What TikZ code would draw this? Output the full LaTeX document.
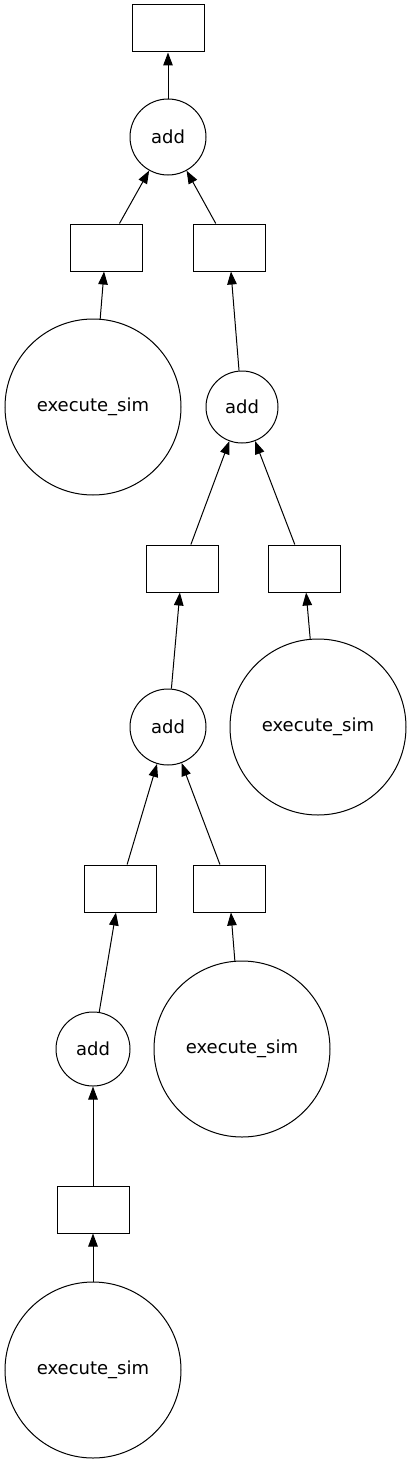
\documentclass[tikz,border=0pt]{standalone}
\usepackage{fontspec}
\setmainfont{DejaVu Sans}
\usetikzlibrary{arrows.meta}
\tikzset{
  box/.style={draw,line width=1pt,minimum width=72pt,minimum height=47pt,inner sep=0pt},
  addnode/.style={circle,draw,line width=1pt,minimum size=76pt,inner sep=0pt,font=\fontsize{18}{20}\selectfont},
  simnode/.style={circle,draw,line width=1pt,minimum size=176pt,inner sep=0pt,font=\fontsize{18}{20}\selectfont},
  dep/.style={-{Triangle[length=13pt,width=9.5pt]},line width=1pt}
}

\begin{document}
\begin{tikzpicture}[x=1pt,y=-1pt]
\useasboundingbox (0,0) rectangle (411,1464);

\node[box] (R0) at (168,28.5) {};
\node[addnode] (A1) at (168,137) {add};
\node[box] (R1) at (106,247.5) {};
\node[box] (R2) at (229,247.5) {};
\node[simnode] (S1) at (93,407) {execute\_sim};
\node[addnode,minimum size=72pt] (A2) at (242,407) {add};
\node[box] (R3) at (182,568.5) {};
\node[box] (R4) at (304,568.5) {};
\node[addnode] (A3) at (168,727) {add};
\node[simnode] (S2) at (318,727) {execute\_sim};
\node[box] (R5) at (120,888.5) {};
\node[box] (R6) at (229,888.5) {};
\node[addnode,minimum size=74pt] (A4) at (93,1049) {add};
\node[simnode] (S3) at (242,1049) {execute\_sim};
\node[box] (R7) at (93,1209.5) {};
\node[simnode] (S4) at (93,1370) {execute\_sim};


\path[dep] (A1) edge (R0);
\path[dep] (R1) edge (A1);
\path[dep] (R2) edge (A1);
\path[dep] (S1) edge (R1);
\path[dep] (A2) edge (R2);
\path[dep] (R3) edge (A2);
\path[dep] (R4) edge (A2);
\path[dep] (A3) edge (R3);
\path[dep] (S2) edge (R4);
\path[dep] (R5) edge (A3);
\path[dep] (R6) edge (A3);
\path[dep] (A4) edge (R5);
\path[dep] (S3) edge (R6);
\path[dep] (R7) edge (A4);
\path[dep] (S4) edge (R7);
\end{tikzpicture}
\end{document}
